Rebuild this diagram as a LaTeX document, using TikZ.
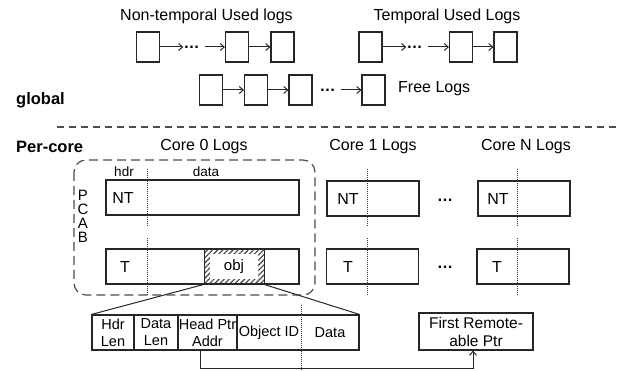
\documentclass[tikz,border=0pt]{standalone}
\usepackage{fontspec}
\setmainfont{Liberation Sans}
\usetikzlibrary{arrows.meta,patterns.meta,calc}
\begin{document}
\begin{tikzpicture}[x=1pt,y=-1pt,
  lbl/.style={font=\fontsize{16}{19}\selectfont, inner sep=0},
  small/.style={font=\fontsize{13.5}{15}\selectfont, inner sep=0},
  field/.style={draw=black!85, line width=1.1pt, inner sep=0, minimum height=35pt,
                font=\fontsize{14.5}{17}\selectfont, align=center},
  cell/.style={draw=black!85, line width=1.1pt, inner sep=0, minimum width=23pt, minimum height=30pt},
  logbox/.style={draw=black!85, line width=1.1pt, inner sep=0, minimum height=35pt},
  link/.style={draw=black!85, line width=1pt, -{Straight Barb[length=4pt,width=7pt]}},
  divider/.style={draw=black!80, line width=0.9pt, dash pattern=on 1pt off 1pt},
  ell/.style={font=\fontsize{16}{19}\selectfont\bfseries, inner sep=0},
  pcabletter/.style={font=\fontsize{15}{15}\selectfont, inner sep=0},
]
\useasboundingbox (0,0) rectangle (619,371);

% ---------- global lists ----------
\node[lbl] (ntlabel) at (206.5,16) {Non-temporal Used logs};
\node[lbl] (tlabel)  at (447,16)   {Temporal Used Logs};

\node[cell] (n1) at (148,47) {};
\node[ell]  (nd) at (191.5,47) {…};
\node[cell] (n2) at (237,47) {};
\node[cell] (n3) at (282.5,47) {};
\draw[link] (n1) -- (n1 -| nd.west);
\draw[link] ([xshift=5pt]nd.east) -- (n2);
\draw[link] (n2) -- (n3);

\node[cell] (t1) at (370.5,47) {};
\node[ell]  (td) at (414.5,47) {…};
\node[cell] (t2) at (461,47) {};
\node[cell] (t3) at (505.5,47) {};
\draw[link] (t1) -- (t1 -| td.west);
\draw[link] ([xshift=5pt]td.east) -- (t2);
\draw[link] (t2) -- (t3);

\node[cell] (f1) at (211,90) {};
\node[cell] (f2) at (256,90) {};
\node[cell] (f3) at (300.5,90) {};
\node[ell]  (fd) at (327.5,90) {…};
\node[cell] (f4) at (373.5,90) {};
\draw[link] (f1) -- (f2);
\draw[link] (f2) -- (f3);
\draw[link] ([xshift=5pt]fd.east) -- (f4);
\node[lbl, anchor=west] (freelabel) at (398,89) {Free Logs};

\node[lbl, font=\fontsize{16.5}{19}\selectfont\bfseries, anchor=west] (global) at (16,100) {global};

% separator between global and per-core state
\coordinate (sepL) at (57,127);
\coordinate (sepR) at (619,127);
\draw[draw=black!70, line width=1.2pt, dash pattern=on 7pt off 5pt] (sepL) -- (sepR);

% ---------- per-core logs ----------
\node[lbl, font=\fontsize{16.5}{19}\selectfont\bfseries, anchor=west] (percore) at (16,147) {Per-core};
\node[lbl] (c0label) at (204,147) {Core 0 Logs};
\node[lbl] (c1label) at (373,147) {Core 1 Logs};
\node[lbl] (cnlabel) at (526,147) {Core N Logs};

% PCAB region
\draw[draw=black!70, line width=1.2pt, dash pattern=on 9pt off 5pt, rounded corners=12pt]
  (74,160) rectangle (315,295);
\node[pcabletter] (pP) at (83,195.5) {P};
\node[pcabletter] (pC) at (83,209.5) {C};
\node[pcabletter] (pA) at (83,223.5) {A};
\node[pcabletter] (pB) at (83,237.5) {B};

\node[small] (hdr)  at (124,172) {hdr};
\node[small] (data) at (206,172) {data};

\node[logbox, minimum width=193pt] (c0nt) at (202.5,197.5) {};
\node[logbox, minimum width=193pt] (c0t)  at (202.5,266.5) {};
\node[logbox, minimum width=92pt]  (c1nt) at (373,198.5) {};
\node[logbox, minimum width=92pt]  (c1t)  at (372.5,266.5) {};
\node[logbox, minimum width=92pt]  (cnnt) at (524,198.5) {};
\node[logbox, minimum width=92pt]  (cnt)  at (523,266.5) {};

\foreach \x in {147,367,517} {
  \draw[divider] (\x,169) -- (\x,227);
  \draw[divider] (\x,238) -- (\x,296);
}

\node[lbl] at (123,198) {NT};
\node[lbl] at (348,199) {NT};
\node[lbl] at (498,199) {NT};
\node[lbl] at (125,267) {T};
\node[lbl] at (348,267) {T};
\node[lbl] at (497,267) {T};
\node[ell] (cdots1) at (445,200) {…};
\node[ell] (cdots2) at (445,267) {…};

% hatched object inside the temporal log
\node[draw=black!85, line width=1pt, minimum width=60pt, minimum height=35pt, inner sep=0,
      pattern={Lines[angle=45,distance=3.6pt,line width=1.1pt]}, pattern color=black!75]
  (obj) at (234,266.5) {};
\node[fill=white, minimum width=48pt, minimum height=25pt, inner sep=0,
      font=\fontsize{15}{18}\selectfont] (objin) at (234,266.5) {obj};

% ---------- object layout ----------
\node[field, minimum width=42pt]  (hl) at (113,332.5)   {Hdr\\Len};
\node[field, minimum width=44pt]  (dl) at (156,332.5)   {Data\\Len};
\node[field, minimum width=59pt]  (hp) at (207.5,332.5) {Head Ptr\\Addr};
\node[field, minimum width=122pt] (od) at (298,332.5)   {};
\node[font=\fontsize{14.5}{17}\selectfont, inner sep=0] (oid) at (269,333) {Object ID};
\node[font=\fontsize{14.5}{17}\selectfont, inner sep=0] (odata) at (330,333) {Data};
\draw[divider] (301,305) -- (301,371);

\draw[draw=black!85, line width=1pt] (obj.south west) -- (hl.north west);
\draw[draw=black!85, line width=1pt] (obj.south east) -- (od.north east);

\node[field, minimum width=114pt, minimum height=37pt, font=\fontsize{15.5}{18}\selectfont]
  (frp) at (476,331.5) {First Remote-\\able Ptr};

\draw[link] ([xshift=-7pt]hp.south) -- ++(0,18) -| ([xshift=-3pt]frp.south);
\end{tikzpicture}
\end{document}
